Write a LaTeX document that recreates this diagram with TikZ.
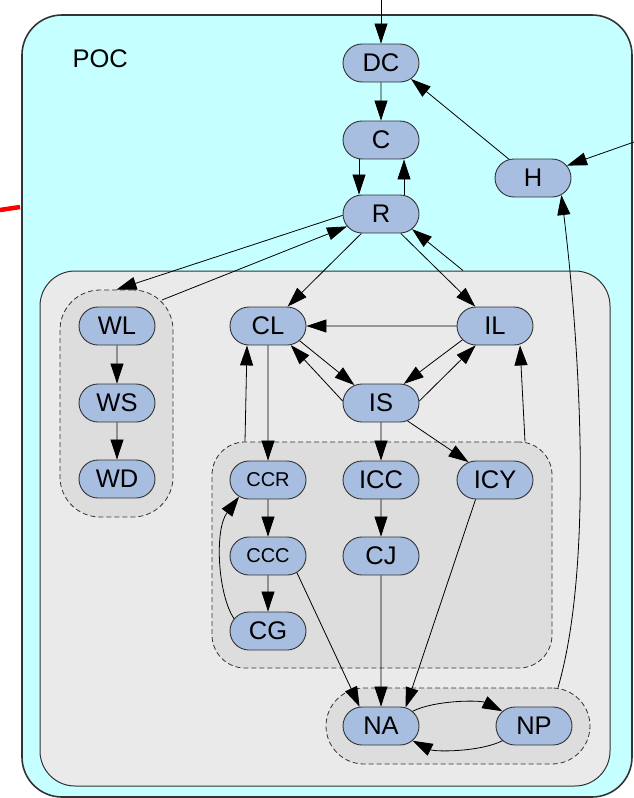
\documentclass[tikz,border=0pt]{standalone}
\usepackage{fontspec}
\setmainfont{Liberation Sans}
\usetikzlibrary{shapes.misc,arrows.meta}

\definecolor{pocfill}{HTML}{C6FFFF}
\definecolor{corefill}{HTML}{EAEAEA}
\definecolor{groupfill}{HTML}{DDDDDD}
\definecolor{statefill}{HTML}{A8BEE0}
\definecolor{frameline}{HTML}{333333}

\tikzset{
  state/.style={rounded rectangle, draw=frameline, line width=0.9pt, fill=statefill,
    minimum width=76pt, minimum height=38pt, inner sep=0pt,
    font=\fontsize{25.5}{30}\selectfont},
  smallstate/.style={state, font=\fontsize{20}{24}\selectfont},
  region/.style={rectangle, draw=frameline, inner sep=0pt},
  groupbox/.style={region, dashed, dash pattern=on 5pt off 3pt, fill=groupfill, line width=0.8pt},
  link/.style={draw=black, line width=0.8pt, -{Triangle[length=20pt,width=13pt]}},
}

\begin{document}
\begin{tikzpicture}[x=1pt,y=-1pt]
\useasboundingbox (0,0) rectangle (634,798);

% regions
\node[region, fill=pocfill, line width=1.6pt, rounded corners=40pt,
  minimum width=610pt, minimum height=782pt] (poc) at (327,406) {};
\node[region, fill=corefill, line width=1pt, rounded corners=35pt,
  minimum width=570pt, minimum height=515pt] (core) at (325,528.5) {};
\node[groupbox, rounded corners=40pt, minimum width=113pt, minimum height=227pt] (wgrp) at (116.5,403.5) {};
\node[groupbox, rounded corners=33pt, minimum width=340pt, minimum height=226pt] (cgrp) at (382,555) {};
\node[groupbox, rounded corners=38pt, minimum width=264pt, minimum height=76pt] (ngrp) at (458,726) {};

\node[anchor=base west, font=\fontsize{25.5}{30}\selectfont] (poclabel) at (69,67) {POC};

% states
\node[state] (DC) at (381,63) {DC};
\node[state] (C) at (381,140) {C};
\node[state] (R) at (381,214) {R};
\node[state] (H) at (533,178) {H};
\node[state] (WL) at (117,326) {WL};
\node[state] (WS) at (117,403) {WS};
\node[state] (WD) at (117,479) {WD};
\node[state] (CL) at (268,326) {CL};
\node[state] (IL) at (495,326) {IL};
\node[state] (IS) at (381,403) {IS};
\node[smallstate] (CCR) at (268,480) {CCR};
\node[state] (ICC) at (381,480) {ICC};
\node[state] (ICY) at (495,480) {ICY};
\node[smallstate] (CCC) at (268,556) {CCC};
\node[state] (CJ) at (381,556) {CJ};
\node[state] (CG) at (268,631) {CG};
\node[state] (NA) at (381,726) {NA};
\node[state] (NP) at (534,726) {NP};

% free ends and cluster attachment points
\coordinate (entry) at (381,0);
\coordinate (rightin) at (634,142);
\coordinate (redA) at (0,210);
\coordinate (redB) at (20,207);
\coordinate (wtail) at (162,300);
\coordinate (coretail) at ([xshift=138pt]core.north);
\coordinate (ctailL) at ([xshift=-137pt]cgrp.north);
\coordinate (ctailR) at ([xshift=143pt]cgrp.north);
\coordinate (ntail) at ([xshift=100pt]ngrp.north);

\draw[red, line width=4.5pt] (redA) -- (redB);

% connectors
\draw[link] (entry) -- (DC);
\draw[link] (DC) -- (C);
\draw[link] ([xshift=-22pt]C.south) -- ([xshift=-22pt]R.north);
\draw[link] ([xshift=23pt]R.north) -- ([xshift=23pt]C.south);
\draw[link] (H.142) -- (DC.-28);
\draw[link] (rightin) -- (H.20);
\draw[link] (R.182) -- (wgrp.north);
\draw[link] (wtail) -- (R.200);
\draw[link] (R) -- (CL);
\draw[link] (R) -- (IL);
\draw[link] (coretail) -- (R.-26);
\draw[link] (WL) -- (WS);
\draw[link] (WS) -- (WD);
\draw[link] (IL) -- (CL);
\draw[link] (CL.-25) -- (IS.146);
\draw[link] (IS.177) -- (CL.-40);
\draw[link] (IL.203) -- (IS.40);
\draw[link] (IS.3) -- (IL.225);
\draw[link] (IS) -- (ICC);
\draw[link] (IS) -- (ICY);
\draw[link] (ctailL) -- ([xshift=-21pt]CL.south);
\draw[link] (CL) -- (CCR);
\draw[link] (ctailR) -- ([xshift=25pt]IL.south);
\draw[link] (CCR) -- (CCC);
\draw[link] (CCC) -- (CG);
\draw[link] (CG.160) .. controls (218,595) and (214,530) .. (CCR.210);
\draw[link] (ICC) -- (CJ);
\draw[link] (CJ) -- (NA);
\draw[link] (CCC.-30) -- (NA.138);
\draw[link] (ICY.-135) -- (NA.37);
\draw[link] (NA.25) .. controls (435,700) and (480,700) .. (NP.155);
\draw[link] (NP.-155) .. controls (480,752) and (435,752) .. (NA.-25);
\draw[link] (ntail) .. controls (595,560) and (578,330) .. (H.-31);
\end{tikzpicture}
\end{document}
